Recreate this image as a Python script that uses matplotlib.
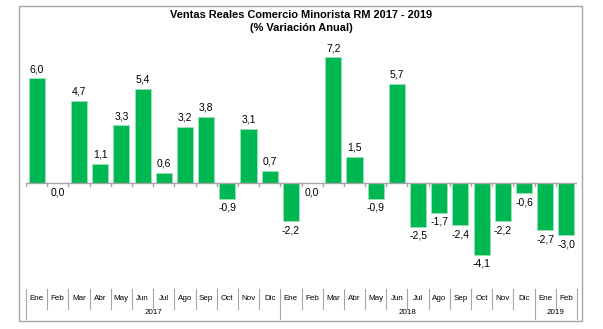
import matplotlib.pyplot as plt
from matplotlib.patches import Rectangle
import matplotlib.transforms as mtransforms

# Data
months = ['Ene', 'Feb', 'Mar', 'Abr', 'May', 'Jun', 'Jul', 'Ago', 'Sep', 'Oct', 'Nov', 'Dic',
          'Ene', 'Feb', 'Mar', 'Abr', 'May', 'Jun', 'Jul', 'Ago', 'Sep', 'Oct', 'Nov', 'Dic',
          'Ene', 'Feb']
years = ['2017', '2018', '2019']
months_per_year = [12, 12, 2]
values = [6.0, 0.0, 4.7, 1.1, 3.3, 5.4, 0.6, 3.2, 3.8, -0.9, 3.1, 0.7,
          -2.2, 0.0, 7.2, 1.5, -0.9, 5.7, -2.5, -1.7, -2.4, -4.1, -2.2, -0.6,
          -2.7, -3.0]

plt.rcParams['font.family'] = ['Liberation Sans', 'DejaVu Sans']

W, H = 603, 329
fig = plt.figure(figsize=(W / 100, H / 100), dpi=100)

# outer frame
fig.patches.append(Rectangle((19 / W, 1 - 321 / H), (582 - 19) / W, (321 - 6) / H,
                             transform=fig.transFigure, fill=False, edgecolor='#a6a6a6', lw=1))

# axes placed in pixel terms
x0, x1 = 26, 577
top_px, bot_px = 40, 270
zero_px = 183
ppu = 17.45
ax = fig.add_axes([x0 / W, 1 - bot_px / H, (x1 - x0) / W, (bot_px - top_px) / H])
ax.set_xlim(-0.5, len(values) - 0.5)
ax.set_ylim((zero_px - bot_px) / ppu, (zero_px - top_px) / ppu)
ax.axis('off')

x = list(range(len(values)))
ax.bar(x, values, width=0.76, color='#00B852', edgecolor='#9fe0b7', linewidth=0.6, zorder=2)
ax.axhline(0, color='#a6a6a6', lw=1, zorder=3)
for b in range(len(values) + 1):
    ax.plot([b - 0.5, b - 0.5], [0, -3 / ppu], color='#a6a6a6', lw=1, zorder=3)

for xi, v in zip(x, values):
    lbl = f'{v:.1f}'.replace('.', ',')
    if v > 0:
        ax.annotate(lbl, (xi, v), xytext=(0, 3), textcoords='offset points',
                    ha='center', va='bottom', fontsize=7.5)
    else:
        ax.annotate(lbl, (xi, v), xytext=(0, -3), textcoords='offset points',
                    ha='center', va='top', fontsize=7.5)

# multi-level category axis below
trans = mtransforms.blended_transform_factory(ax.transData, fig.transFigure)
def fy(px):
    return 1 - px / H

boundaries = set()
start = 0
for n in months_per_year:
    boundaries.add(start)
    start += n
boundaries.add(start)

for b in range(len(values) + 1):
    y_end = 319 if b in boundaries else 309
    ax.plot([b - 0.5, b - 0.5], [fy(289), fy(y_end)], transform=trans,
            color='#a6a6a6', lw=0.8, clip_on=False)

for xi, m in zip(x, months):
    ax.text(xi, fy(299), m, transform=trans, ha='center', va='center', fontsize=5.8)

start = 0
for yr, n in zip(years, months_per_year):
    ax.text(start + (n - 1) / 2, fy(313), yr, transform=trans, ha='center', va='center', fontsize=5.8)
    start += n

fig.text(0.5, fy(15), 'Ventas Reales Comercio Minorista RM 2017 - 2019', ha='center', va='center',
         fontsize=7.9, fontweight='bold')
fig.text(0.5, fy(28), '(% Variación Anual)', ha='center', va='center',
         fontsize=7.9, fontweight='bold')

fig.savefig('out.png', dpi=100)
